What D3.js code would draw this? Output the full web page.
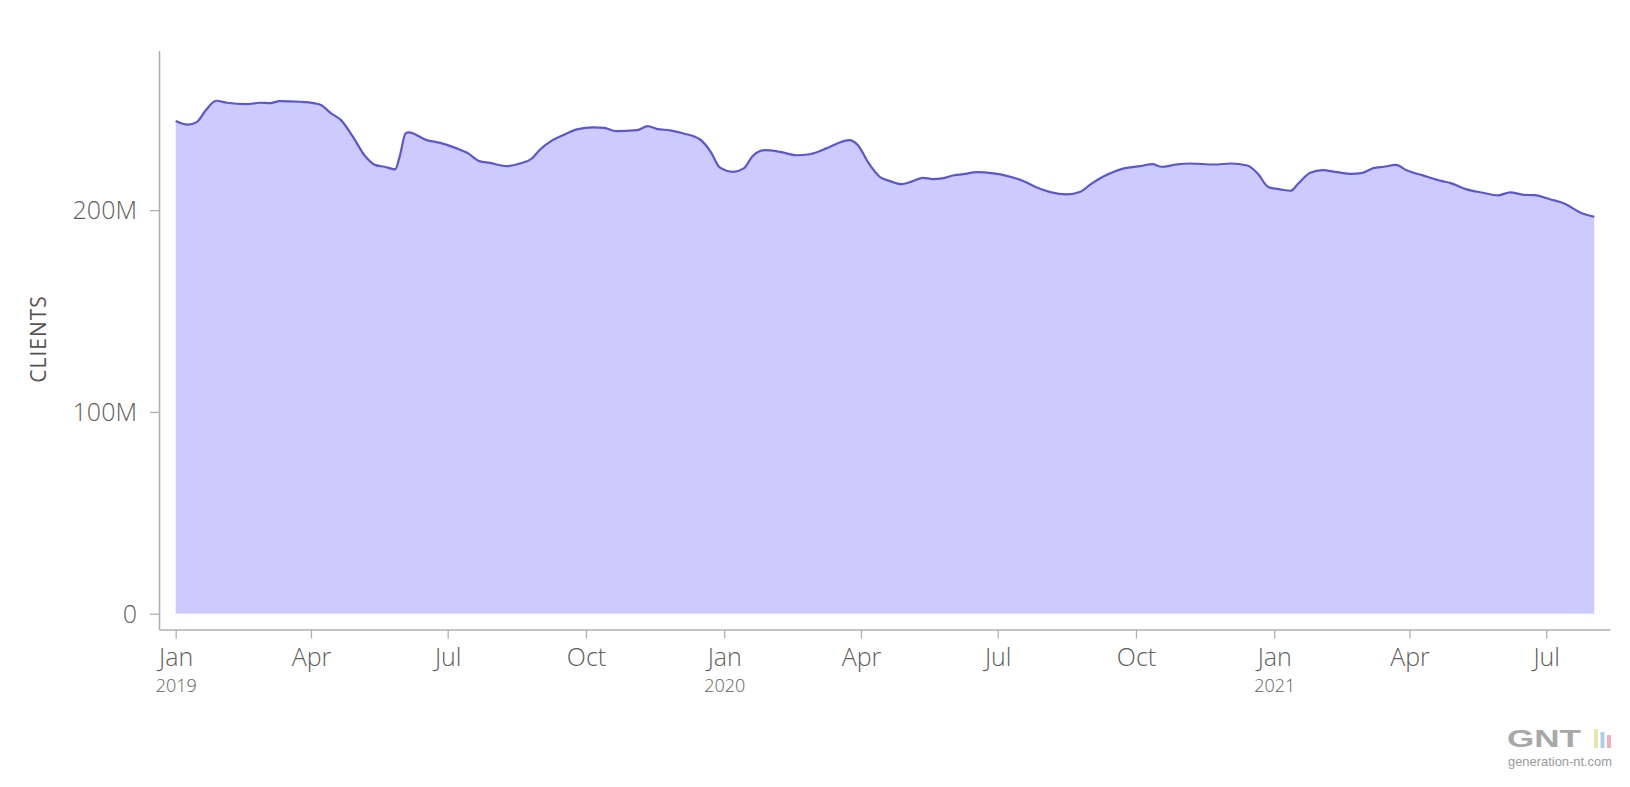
<!DOCTYPE html>
<html>
<head>
<meta charset="utf-8">
<script src="https://cdn.jsdelivr.net/npm/d3@7"></script>
<style>
  html, body { margin: 0; padding: 0; background: #ffffff; }
  svg { display: block; }
  text { font-family: "Open Sans", "Noto Sans", sans-serif; }
</style>
</head>
<body>
<svg id="chart" width="1630" height="787"></svg>
<script>
// ---- Data ----
const dates = [
  "2019-01-01","2019-01-09","2019-01-15","2019-01-21","2019-01-28","2019-02-04","2019-02-17","2019-02-26",
  "2019-03-05","2019-03-11","2019-03-25","2019-04-03","2019-04-08","2019-04-14","2019-04-21","2019-04-29",
  "2019-05-07","2019-05-14","2019-05-20","2019-05-27","2019-05-30","2019-06-03","2019-06-05","2019-06-17",
  "2019-06-26","2019-07-07","2019-07-14","2019-07-22","2019-07-29","2019-08-09","2019-08-18","2019-08-26",
  "2019-08-31","2019-09-08","2019-09-16","2019-09-25","2019-10-06","2019-10-13","2019-10-21","2019-11-04",
  "2019-11-11","2019-11-17","2019-11-26","2019-12-05","2019-12-16","2019-12-23","2019-12-29","2020-01-07",
  "2020-01-14","2020-01-20","2020-01-28","2020-02-07","2020-02-18","2020-02-27","2020-03-09","2020-03-17",
  "2020-03-24","2020-03-30","2020-04-06","2020-04-14","2020-04-20","2020-04-28","2020-05-06","2020-05-12",
  "2020-05-19","2020-05-25","2020-06-02","2020-06-08","2020-06-17","2020-06-28","2020-07-07","2020-07-18",
  "2020-07-27","2020-08-05","2020-08-16","2020-08-25","2020-09-01","2020-09-09","2020-09-23","2020-10-04",
  "2020-10-12","2020-10-18","2020-10-28","2020-11-06","2020-11-22","2020-12-03","2020-12-14","2020-12-21",
  "2020-12-28","2021-01-05","2021-01-12","2021-01-17","2021-01-25","2021-02-02","2021-02-12","2021-02-21",
  "2021-02-28","2021-03-08","2021-03-15","2021-03-23","2021-03-30","2021-04-10","2021-04-22","2021-04-28",
  "2021-05-09","2021-05-20","2021-05-30","2021-06-07","2021-06-16","2021-06-23","2021-07-04","2021-07-13",
  "2021-07-24","2021-08-02"
];
// values in millions of clients
const clients = [
  244.2,242.4,243.6,249.5,254.2,253.2,252.5,253.2,
  253.0,254.0,253.7,253.0,252.0,248.2,244.6,236.3,
  226.8,222.3,221.5,220.2,226.4,238.0,238.5,234.7,
  233.3,230.6,228.4,224.3,223.4,221.8,223.1,225.6,
  229.7,234.3,237.2,240.0,241.0,240.8,239.1,239.6,
  241.6,240.3,239.5,238.0,235.0,228.9,221.2,219.0,
  220.7,226.8,229.7,228.9,227.2,227.7,230.6,233.3,
  234.7,232.2,223.4,216.2,214.5,212.9,214.5,216.0,
  215.4,215.7,217.3,217.8,218.8,218.2,217.0,214.4,
  211.2,208.9,207.8,209.1,212.9,216.5,220.7,221.8,
  222.8,221.5,222.6,223.1,222.6,223.1,222.1,218.2,
  211.5,210.3,209.6,213.2,218.5,219.8,218.8,218.0,
  218.3,220.8,221.5,222.4,219.8,217.2,214.5,213.5,
  210.3,208.6,207.3,208.8,207.6,207.4,205.3,203.3,
  198.7,196.7
];
const yTicks = [0, 100e6, 200e6];
const yTickLabels = ["0", "100M", "200M"];
const monthNames = ["Jan","Apr","Jul","Oct"];
const yAxisTitle = "CLIENTS";

// ---- Setup ----
const svg = d3.select("#chart");
const parse = d3.timeParse("%Y-%m-%d");
const data = dates.map((d, i) => ({ date: parse(d), value: clients[i] * 1e6 }));

// inner data scale (data extent -> plotted extent)
const xData = d3.scaleTime()
  .domain(d3.extent(data, d => d.date))
  .range([175.7, 1594.3]);
// padded scale covering the whole axis line
const x = d3.scaleTime()
  .domain([xData.invert(159), xData.invert(1610)])
  .range([159, 1610]);

const y = d3.scaleLinear()
  .domain([-7.8e6, 279e6])
  .range([629.5, 50.7]);

const axisColor = "#b0b0b0";
const textColor = "#5e5e5e";

// ---- Area + line ----
const area = d3.area()
  .x(d => x(d.date))
  .y0(y(0))
  .y1(d => y(d.value))
  .curve(d3.curveMonotoneX);
const line = d3.line()
  .x(d => x(d.date))
  .y(d => y(d.value))
  .curve(d3.curveMonotoneX);

svg.append("path")
  .datum(data)
  .attr("d", area)
  .attr("fill", "#cdcbfd");

svg.append("path")
  .datum(data)
  .attr("d", line)
  .attr("fill", "none")
  .attr("stroke", "#5b58cc")
  .attr("stroke-width", 2.2);

// ---- Y axis ----
const yAxis = d3.axisLeft(y)
  .tickValues(yTicks)
  .tickFormat((d, i) => yTickLabels[i])
  .tickSize(9)
  .tickPadding(13)
  .tickSizeOuter(0);
const gy = svg.append("g")
  .attr("transform", "translate(159,0)")
  .call(yAxis);
gy.select(".domain").attr("stroke", axisColor).attr("stroke-width", 1.6);
gy.selectAll(".tick line").attr("stroke", axisColor).attr("stroke-width", 1.3);
gy.selectAll(".tick text")
  .attr("fill", textColor)
  .style("font-size", "25px")
  .style("font-weight", 300)
  .attr("dy", "0.34em");

// ---- X axis ----
const xTicks = d3.timeMonth.every(3).range(new Date(2019, 0, 1), new Date(2021, 8, 1));
const xAxis = d3.axisBottom(x)
  .tickValues(xTicks)
  .tickFormat(() => "")
  .tickSize(9)
  .tickSizeOuter(0);
const gx = svg.append("g")
  .attr("transform", "translate(0,629.5)")
  .call(xAxis);
gx.select(".domain").attr("stroke", axisColor).attr("stroke-width", 1.6);
gx.selectAll(".tick line").attr("stroke", axisColor).attr("stroke-width", 1.3);
gx.selectAll(".tick text").remove();

const tickG = gx.selectAll(".tick");
tickG.append("text")
  .attr("y", 36)
  .attr("text-anchor", "middle")
  .attr("fill", textColor)
  .style("font-weight", 300)
  .style("font-size", "25px")
  .text(d => monthNames[Math.floor(d.getMonth() / 3)]);
tickG.filter(d => d.getMonth() === 0)
  .append("text")
  .attr("y", 62.5)
  .attr("text-anchor", "middle")
  .attr("fill", textColor)
  .style("font-weight", 300)
  .style("font-size", "18px")
  .text(d => d.getFullYear());

// ---- Y axis title ----
svg.append("text")
  .attr("transform", "translate(46,339) rotate(-90)")
  .attr("text-anchor", "middle")
  .attr("fill", "#555555")
  .style("font-size", "21px")
  .style("font-weight", 400)
  .style("letter-spacing", "1px")
  .text(yAxisTitle);

// ---- Watermark ----
const wm = svg.append("g");
wm.append("text")
  .attr("x", 1507).attr("y", 747)
  .attr("fill", "#a8a8a8")
  .attr("textLength", 74)
  .attr("lengthAdjust", "spacingAndGlyphs")
  .style("font-family", "'Liberation Sans', Arial, sans-serif")
  .style("font-size", "24px")
  .style("font-weight", 700)
  .text("GNT");
const barColors = ["#e8e6a6", "#a9d0e8", "#f0b0c0"];
barColors.forEach((c, i) => {
  wm.append("rect")
    .attr("x", 1594 + i * 6.5).attr("y", 729 + i * 3)
    .attr("width", 4).attr("height", 19 - i * 3)
    .attr("fill", c);
});
wm.append("text")
  .attr("x", 1508).attr("y", 766)
  .attr("fill", "#9a9a9a")
  .attr("textLength", 104)
  .attr("lengthAdjust", "spacingAndGlyphs")
  .style("font-family", "'Liberation Sans', Arial, sans-serif")
  .style("font-size", "13px")
  .text("generation-nt.com");
</script>
</body>
</html>
